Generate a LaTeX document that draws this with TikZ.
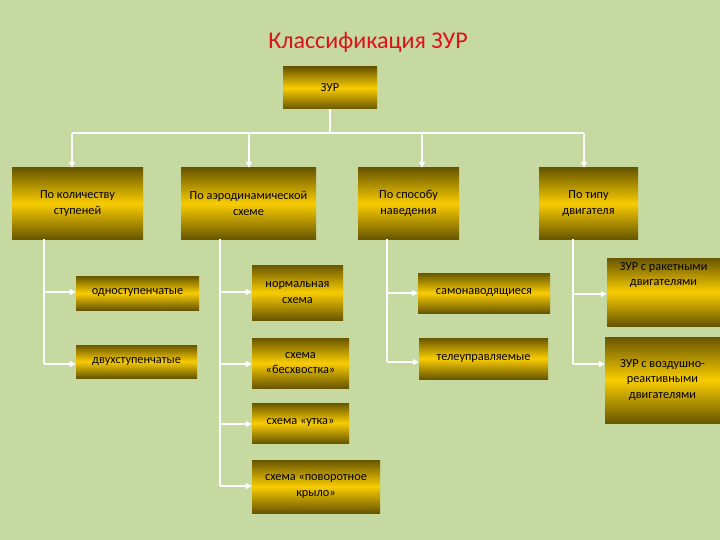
\documentclass[tikz,border=0pt]{standalone}
\usepackage{fontspec}
\setmainfont{Carlito}
\usetikzlibrary{arrows.meta}
\definecolor{bg}{RGB}{197,217,160}
\definecolor{gdark}{RGB}{105,86,0}
\definecolor{gbright}{RGB}{248,204,0}
\definecolor{titlered}{RGB}{222,18,24}
\tikzset{
  box/.style={rectangle, inner sep=2pt, top color=gdark, bottom color=gdark, middle color=gbright,
    align=center, font=\fontsize{12.3}{15.5}\selectfont, text=black},
  lbl/.style={align=center, font=\fontsize{12.3}{15.5}\selectfont, text=black, inner sep=0pt},
  link/.style={draw=white, line width=1.6pt},
  arr/.style={link, -{Triangle[width=6pt,length=6pt]}}
}
\begin{document}
\begin{tikzpicture}[x=1pt,y=-1pt]
\useasboundingbox (0,0) rectangle (720,540);
\fill[bg] (0,0) rectangle (720,540);

\node[text=titlered, font=\fontsize{24}{28}\selectfont] (title) at (368,42) {Классификация ЗУР};

\node[box, minimum width=94pt, minimum height=42pt] (z) at (330,88) {ЗУР};

\node[box, minimum width=131pt, minimum height=71pt] (b1) at (77.5,203.5) {По количеству\\ступеней};
\node[box, minimum width=135pt, minimum height=71pt] (b2) at (248.5,203.5) {По аэродинамической\\схеме};
\node[box, minimum width=101pt, minimum height=71pt] (b3) at (408.5,203.5) {По способу\\наведения};
\node[box, minimum width=99pt, minimum height=71pt] (b4) at (588.5,203.5) {По типу\\двигателя};

\node[box, minimum width=123pt, minimum height=34pt] (c1) at (137.5,293) {одноступенчатые};
\node[box, minimum width=121pt, minimum height=33pt] (c2) at (136.5,361.5) {двухступенчатые};

\node[box, minimum width=91pt, minimum height=55pt] (d1) at (297.5,292.5) {нормальная\\схема};
\node[box, minimum width=97pt, minimum height=50pt] (d2) at (300.5,363) {схема\\«бесхвостка»};
\node[box, minimum width=97pt, minimum height=40pt] (d3) at (300.5,423) {схема «утка»};
\node[box, minimum width=128pt, minimum height=53pt] (d4) at (316,486.5) {схема «поворотное\\крыло»};

\node[box, minimum width=132pt, minimum height=40pt] (e1) at (484,293) {самонаводящиеся};
\node[box, minimum width=129pt, minimum height=41pt] (e2) at (483.5,358.5) {телеуправляемые};

\node[box, minimum width=113pt, minimum height=68pt] (f1) at (663.5,292) {};
\node[lbl, anchor=north] (f1t) at (663.5,262) {ЗУР с ракетными\\двигателями};
\node[box, minimum width=115pt, minimum height=86pt] (f2) at (662.5,380) {ЗУР с воздушно-\\реактивными\\двигателями};

% top bus
\coordinate (t1) at (72,133);
\coordinate (t2) at (249,133);
\coordinate (t3) at (422,133);
\coordinate (t4) at (584,133);
\draw[link] (z.south) -- (z.south |- t1);
\draw[link] (t1) -- (t4);
\draw[arr] (t1) -- (t1 |- b1.north);
\draw[arr] (t2) -- (t2 |- b2.north);
\draw[arr] (t3) -- (t3 |- b3.north);
\draw[arr] (t4) -- (t4 |- b4.north);

% column 1
\coordinate (v1a) at (44,292);
\coordinate (v1b) at (44,364);
\draw[link] (v1a |- b1.south) -- (v1b);
\draw[arr] (v1a) -- (v1a -| c1.west);
\draw[arr] (v1b) -- (v1b -| c2.west);

% column 2
\coordinate (v2a) at (220,292);
\coordinate (v2b) at (220,364);
\coordinate (v2c) at (220,424);
\coordinate (v2d) at (220,486);
\draw[link] (v2a |- b2.south) -- (v2d);
\draw[arr] (v2a) -- (v2a -| d1.west);
\draw[arr] (v2b) -- (v2b -| d2.west);
\draw[arr] (v2c) -- (v2c -| d3.west);
\draw[arr] (v2d) -- (v2d -| d4.west);

% column 3
\coordinate (v3a) at (387,293);
\coordinate (v3b) at (387,362);
\draw[link] (v3a |- b3.south) -- (v3b);
\draw[arr] (v3a) -- (v3a -| e1.west);
\draw[arr] (v3b) -- (v3b -| e2.west);

% column 4
\coordinate (v4a) at (573,294);
\coordinate (v4b) at (573,364);
\draw[link] (v4a |- b4.south) -- (v4b);
\draw[arr] (v4a) -- (v4a -| f1.west);
\draw[arr] (v4b) -- (v4b -| f2.west);
\end{tikzpicture}
\end{document}
